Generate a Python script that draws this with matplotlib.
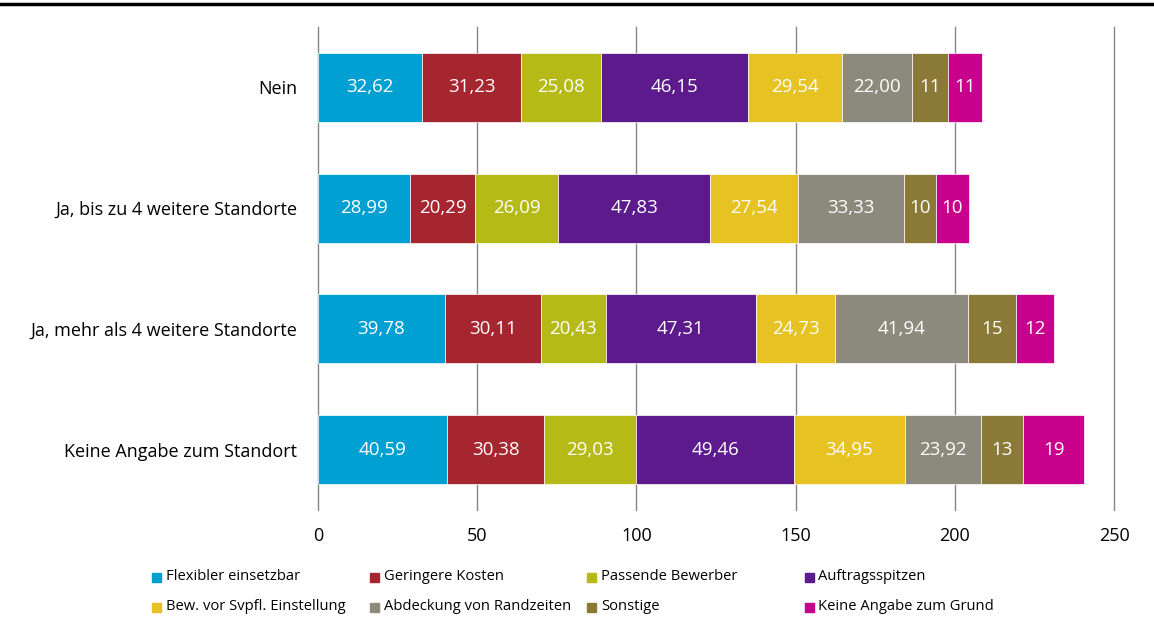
import matplotlib.pyplot as plt
from matplotlib.lines import Line2D
from matplotlib.patches import Rectangle

plt.rcParams['font.family'] = ['Open Sans', 'DejaVu Sans']

categories = ["Nein", "Ja, bis zu 4 weitere Standorte",
              "Ja, mehr als 4 weitere Standorte", "Keine Angabe zum Standort"]
series_names = ["Flexibler einsetzbar", "Geringere Kosten", "Passende Bewerber",
                "Auftragsspitzen", "Bew. vor Svpfl. Einstellung",
                "Abdeckung von Randzeiten", "Sonstige", "Keine Angabe zum Grund"]
flexibel = [32.62, 28.99, 39.78, 40.59]
kosten = [31.23, 20.29, 30.11, 30.38]
bewerber = [25.08, 26.09, 20.43, 29.03]
spitzen = [46.15, 47.83, 47.31, 49.46]
svpfl = [29.54, 27.54, 24.73, 34.95]
randzeiten = [22.00, 33.33, 41.94, 23.92]
sonstige = [11.2, 10.14, 15.05, 13.2]
keine = [10.8, 10.14, 11.83, 19.1]
colors = ["#00A0D2", "#A5262F", "#B5BA16", "#5C1A8C",
          "#E6C222", "#8C8A7C", "#8B7A37", "#C8008C"]

series = [flexibel, kosten, bewerber, spitzen, svpfl, randzeiten, sonstige, keine]

fig = plt.figure(figsize=(11.54, 6.3), dpi=100)
ax = fig.add_axes([318 / 1154, 1 - 510 / 630, 796 / 1154, 483 / 630])

y = range(len(categories))
left = [0] * len(categories)
for k, (vals, col) in enumerate(zip(series, colors)):
    bars = ax.barh(y, vals, left=left, height=0.57, color=col,
                   edgecolor="white", linewidth=0.5, zorder=3)
    for b, v in zip(bars, vals):
        txt = f"{v:.0f}" if k >= 6 else f"{v:.2f}".replace(".", ",")
        ax.text(b.get_x() + b.get_width() / 2, b.get_y() + b.get_height() / 2,
                txt, ha="center", va="center", color="white", fontsize=13.5, zorder=4)
    left = [l + v for l, v in zip(left, vals)]

ax.set_xlim(0, 250)
ax.set_ylim(3.5, -0.5)
ax.set_xticks([0, 50, 100, 150, 200, 250])
ax.set_yticks(list(y))
ax.set_yticklabels(categories)
ax.tick_params(length=0, labelsize=13, colors="black")
ax.tick_params(axis="y", pad=15)
ax.tick_params(axis="x", pad=12)
ax.grid(axis="x", color="#868686", linewidth=1, zorder=0)
for gl in ax.get_xgridlines():
    gl.set_clip_on(False)
for s in ax.spines.values():
    s.set_visible(False)

# top rule
fig.add_artist(Line2D([0, 1], [1 - 4 / 630, 1 - 4 / 630], color="black", linewidth=2.5))

# legend, 4 fixed columns
for i, (name, col) in enumerate(zip(series_names, colors)):
    cx = 152 + (i % 4) * 217.5
    cy = 577 + (i // 4) * 30
    fig.add_artist(Rectangle((cx / 1154, 1 - (cy + 4.5) / 630), 9 / 1154, 9 / 630,
                             color=col, transform=fig.transFigure))
    fig.text((cx + 14) / 1154, 1 - cy / 630, name, fontsize=10.6, va="center", ha="left")

fig.savefig("out.png", dpi=100)
